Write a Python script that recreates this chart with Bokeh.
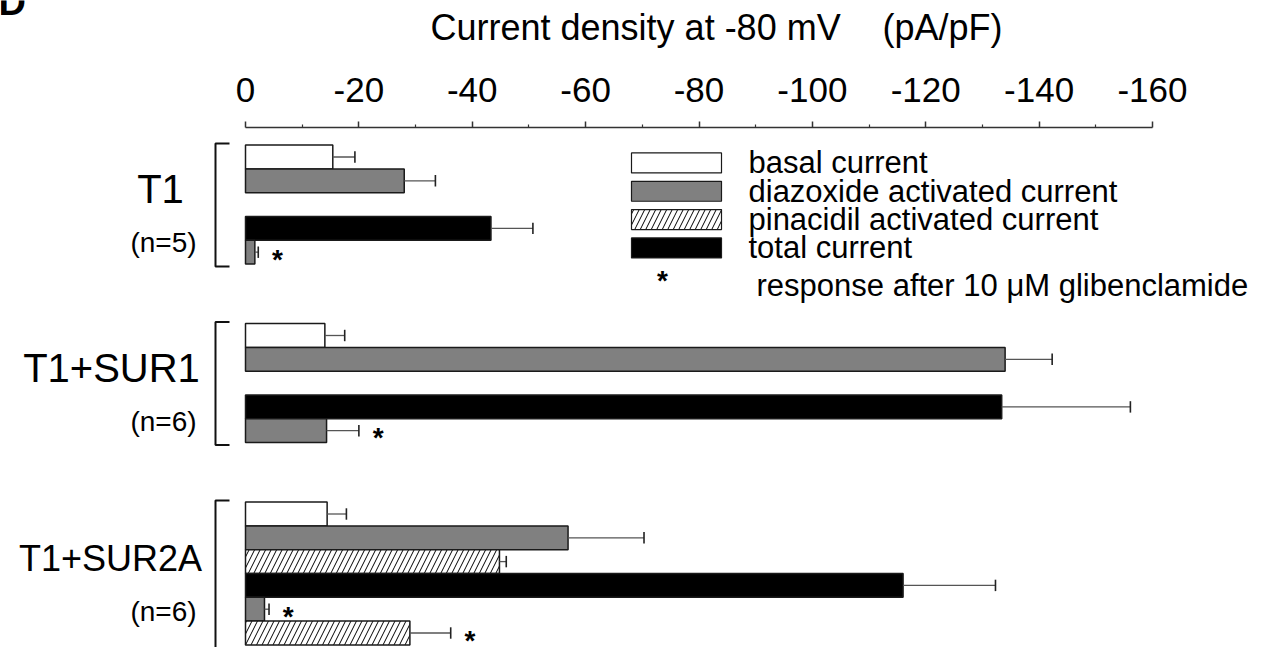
from bokeh.plotting import figure
from bokeh.layouts import column
from bokeh.models import Range1d, FixedTicker, ColumnDataSource
from bokeh.core.properties import value
from bokeh.embed import file_html
from bokeh.resources import INLINE

# ---------------- data (pA/pF) ----------------
groups = ["T1", "T1+SUR1", "T1+SUR2A"]
group_n = ["(n=5)", "(n=6)", "(n=6)"]

basal = [-15.4, -14.0, -14.4]
basal_err = [3.9, 3.5, 3.4]
diazoxide = [-28.0, -134.0, -56.9]
diazoxide_err = [5.5, 8.3, 13.4]
pinacidil = [None, None, -44.8]
pinacidil_err = [None, None, 1.2]
total = [-43.3, -133.4, -116.0]
total_err = [7.4, 22.7, 16.3]
glib_diazoxide = [-1.65, -14.3, -3.35]
glib_diazoxide_err = [0.6, 5.7, 0.8]
glib_pinacidil = [None, None, -29.0]
glib_pinacidil_err = [None, None, 7.2]

tick_values = [0, -20, -40, -60, -80, -100, -120, -140, -160]
tick_labels = ["0", "-20", "-40", "-60", "-80", "-100", "-120", "-140", "-160"]
minor_tick_values = [-10, -30, -50, -70, -90, -110, -130, -150]

legend_labels = ["basal current", "diazoxide activated current",
                 "pinacidil activated current", "total current"]
legend_note = "response after 10 \u03bcM glibenclamide"
title_quantity = "Current density at -80 mV"
title_unit = "(pA/pF)"
panel_letter = "D"

# ---------------- layout ----------------
W, H = 1266, 647
TOP_H = 50                  # header strip (panel letter + axis title)
PX = 907.0 / 160.0          # pixels per pA/pF
X0 = 245.0                  # page x of value 0
SLOT = 23.8                 # pixels per bar slot
FRAME_TOP = 127             # page y of the axis line
Y0 = 156.5                  # page y of the first slot centre
group_start = [0.0, 7.5, 15.0]
n_slots = [5, 5, 6]

FONT = "Liberation Sans"
GRAY = "#808080"
EDGE = "#1a1a1a"

# ---------------- header strip ----------------
head = figure(width=W, height=TOP_H, output_backend="svg", toolbar_location=None,
              x_axis_location=None, y_axis_location=None,
              x_range=Range1d(0, W), y_range=Range1d(TOP_H, 0), min_border=0)
head.outline_line_color = None
head.xgrid.visible = False
head.ygrid.visible = False
head.text(x=[-2], y=[1], text=[panel_letter], text_align="left", text_baseline="middle",
          text_font=value(FONT), text_font_style="bold", text_font_size=value("38px"),
          text_color="black")
head.text(x=[430, 882], y=[26.5, 26.5], text=[title_quantity, title_unit],
          text_align="left", text_baseline="middle",
          text_font=value(FONT), text_font_size=value("36px"), text_color="black")

# ---------------- main chart ----------------
PH = H - TOP_H
p = figure(width=W, height=PH, output_backend="svg", toolbar_location=None,
           x_axis_location="above", y_axis_location=None,
           x_range=Range1d(X0 / PX, -(W - X0) / PX),
           y_range=Range1d((H - Y0) / SLOT, -(Y0 - FRAME_TOP) / SLOT),
           min_border_left=0, min_border_right=0, min_border_bottom=0,
           min_border_top=FRAME_TOP - TOP_H)
p.outline_line_color = None
p.xgrid.visible = False
p.ygrid.visible = False

ax = p.xaxis[0]
ax.ticker = FixedTicker(ticks=tick_values, minor_ticks=minor_tick_values)
ax.major_label_overrides = {v: s for v, s in zip(tick_values, tick_labels)}
ax.bounds = (-160, 0)
ax.axis_line_color = "#333333"
ax.axis_line_width = 1.5
ax.major_tick_line_color = "#333333"
ax.major_tick_line_width = 1.5
ax.minor_tick_line_color = "#333333"
ax.minor_tick_line_width = 1.2
ax.major_tick_in = 0
ax.major_tick_out = 6
ax.minor_tick_in = 0
ax.minor_tick_out = 3
ax.major_label_standoff = 20
ax.major_label_text_font = FONT
ax.major_label_text_font_size = "35px"
ax.major_label_text_color = "black"

HATCH = dict(fill_color="white", hatch_pattern="/", hatch_scale=11,
             hatch_weight=1, hatch_color="black")
series = [
    (basal, basal_err, 0, dict(fill_color="white")),
    (diazoxide, diazoxide_err, 1, dict(fill_color=GRAY)),
    (pinacidil, pinacidil_err, 2, HATCH),
    (total, total_err, 3, dict(fill_color="black")),
    (glib_diazoxide, glib_diazoxide_err, 4, dict(fill_color=GRAY)),
    (glib_pinacidil, glib_pinacidil_err, 5, HATCH),
]

err_x0, err_x1, err_y = [], [], []
star_x, star_y = [], []
for vals, errs, slot, style in series:
    ys, rs = [], []
    for g, (v, e) in enumerate(zip(vals, errs)):
        if v is None:
            continue
        y = group_start[g] + slot
        ys.append(y)
        rs.append(v)
        err_x0.append(v)
        err_x1.append(v - e)
        err_y.append(y)
        if slot >= 4:          # responses after glibenclamide
            star_x.append(v - e - 3.4)
            star_y.append(y + 0.3)
    src = ColumnDataSource(dict(y=ys, right=rs))
    p.hbar(y="y", left=0, right="right", height=1.0, source=src,
           line_color=EDGE, line_width=1.5, **style)

esrc = ColumnDataSource(dict(x0=err_x0, x1=err_x1, y=err_y,
                             yc0=[y - 0.24 for y in err_y], yc1=[y + 0.24 for y in err_y]))
p.segment(x0="x0", y0="y", x1="x1", y1="y", source=esrc, line_color="#555555", line_width=1.3)
p.segment(x0="x1", y0="yc0", x1="x1", y1="yc1", source=esrc, line_color="#222222", line_width=1.6)

p.text(x=star_x, y=star_y, text=["*"] * len(star_x), text_align="center",
       text_baseline="middle", text_font=value(FONT), text_font_style="bold",
       text_font_size=value("28px"), text_color="black")

# ---------------- group brackets and labels ----------------
BR_X = (X0 - 215) / PX
BR_TICK = (X0 - 229) / PX
bx, by = [], []
for g in range(len(groups)):
    top = group_start[g] - 0.57
    bot = group_start[g] + n_slots[g] - 1 + (0.6 if g < 2 else 1.2)
    bx.append([BR_TICK, BR_X, BR_X, BR_TICK])
    by.append([top, top, bot, bot])
p.multi_line(xs=bx, ys=by, line_color="#111111", line_width=2)

label_cx = [160, 111, 110]
label_fs = ["40px", "40px", "36px"]
n_cx = 163
for g in range(len(groups)):
    mid = group_start[g] + (n_slots[g] - 1) / 2.0
    p.text(x=[(X0 - label_cx[g]) / PX], y=[mid - 0.65], text=[groups[g]],
           text_align="center", text_baseline="middle", text_font=value(FONT),
           text_font_size=value(label_fs[g]), text_color="black")
    p.text(x=[(X0 - n_cx) / PX], y=[mid + 1.6], text=[group_n[g]],
           text_align="center", text_baseline="middle", text_font=value(FONT),
           text_font_size=value("28px"), text_color="black")

# ---------------- legend ----------------
LEG_L = -(631 - X0) / PX
LEG_R = -(721 - X0) / PX
LEG_TX = -(748 - X0) / PX
LEG_Y0 = 0.25
LEG_DY = 1.19
for i, (vals, errs, slot, style) in enumerate(series[:4]):
    yc = LEG_Y0 + i * LEG_DY
    p.hbar(y=[yc], left=LEG_L, right=LEG_R, height=0.84,
           line_color=EDGE, line_width=1.2, **style)
    p.text(x=[LEG_TX], y=[yc], text=[legend_labels[i]], text_align="left",
           text_baseline="middle", text_font=value(FONT),
           text_font_size=value("31px"), text_color="black")
note_y = LEG_Y0 + 3 * LEG_DY + 1.58
p.text(x=[-(662 - X0) / PX], y=[note_y - 0.2], text=["*"], text_align="center",
       text_baseline="middle", text_font=value(FONT), text_font_style="bold",
       text_font_size=value("28px"), text_color="black")
p.text(x=[-(756 - X0) / PX], y=[note_y], text=[legend_note], text_align="left",
       text_baseline="middle", text_font=value(FONT),
       text_font_size=value("31px"), text_color="black")

open("out.html", "w").write(file_html(column(head, p), INLINE))
